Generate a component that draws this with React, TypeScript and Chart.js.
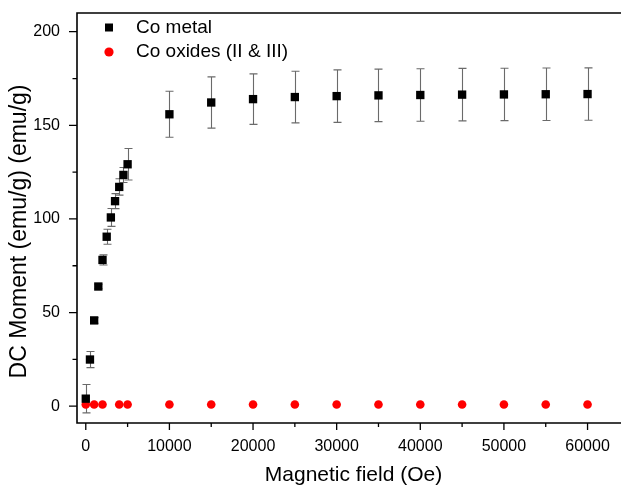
import React, { useEffect, useRef } from "react";
import { Chart, registerables } from "chart.js";

Chart.register(...registerables);

// ---- data ----
const metalField = [0, 500, 1000, 1500, 2000, 2500, 3000, 3500, 4000, 4500, 5000, 10000, 15000, 20000, 25000, 30000, 35000, 40000, 45000, 50000, 55000, 60000];
const metalMoment = [4.0, 24.9, 45.8, 63.9, 78.1, 90.5, 100.8, 109.5, 117.1, 123.5, 129.2, 155.9, 162.2, 164.0, 165.1, 165.6, 166.0, 166.2, 166.4, 166.5, 166.6, 166.7];
const metalError = [7.6, 4.3, 1.5, 1.2, 2.7, 4.0, 4.8, 4.0, 4.4, 4.0, 8.4, 12.3, 13.7, 13.5, 13.8, 14.0, 14.0, 14.0, 14.0, 14.0, 14.0, 14.0];
const oxideField = [0, 1000, 2000, 4000, 5000, 10000, 15000, 20000, 25000, 30000, 35000, 40000, 45000, 50000, 55000, 60000];
const oxideMoment = [0.9, 0.9, 0.9, 0.9, 0.9, 0.9, 0.9, 0.9, 0.9, 0.9, 0.9, 0.9, 0.9, 0.9, 0.9, 0.9];
const seriesLabels = ["Co metal", "Co oxides (II & III)"];
const xTickValues = [0, 10000, 20000, 30000, 40000, 50000, 60000];
const xMinorTickValues = [5000, 15000, 25000, 35000, 45000, 55000];
const yTickValues = [0, 50, 100, 150, 200];
const yMinorTickValues = [25, 75, 125, 175];
const xTitle = "Magnetic field (Oe)";
const yTitle = "DC Moment (emu/g) (emu/g)";

const FONT = "'Liberation Sans', Arial, sans-serif";

const framePlugin = {
  id: "frameAndExtras",
  beforeDatasetsDraw(chart: any) {
    const { ctx, scales } = chart;
    const xs = scales.x;
    const ys = scales.y;
    ctx.save();
    ctx.strokeStyle = "#6a6a6a";
    ctx.lineWidth = 1.1;
    metalField.forEach((f, i) => {
      const x = Math.round(xs.getPixelForValue(f)) + 0.5;
      const yt = ys.getPixelForValue(metalMoment[i] + metalError[i]);
      const yb = ys.getPixelForValue(metalMoment[i] - metalError[i]);
      ctx.beginPath();
      ctx.moveTo(x, yt);
      ctx.lineTo(x, yb);
      ctx.moveTo(x - 4, yt);
      ctx.lineTo(x + 4, yt);
      ctx.moveTo(x - 4, yb);
      ctx.lineTo(x + 4, yb);
      ctx.stroke();
    });
    ctx.restore();
  },
  afterDraw(chart: any) {
    const { ctx, chartArea, scales } = chart;
    const xs = scales.x;
    const ys = scales.y;
    const { left, right, top, bottom } = chartArea;
    ctx.save();
    ctx.strokeStyle = "#000";
    ctx.lineWidth = 1.6;
    ctx.beginPath();
    ctx.moveTo(right + 2, top);
    ctx.lineTo(left, top);
    ctx.lineTo(left, bottom);
    ctx.lineTo(right + 2, bottom);
    ctx.stroke();
    ctx.lineWidth = 1.3;
    ctx.beginPath();
    yTickValues.forEach((v) => {
      const y = ys.getPixelForValue(v);
      ctx.moveTo(left, y);
      ctx.lineTo(left - 8, y);
    });
    yMinorTickValues.forEach((v) => {
      const y = ys.getPixelForValue(v);
      ctx.moveTo(left, y);
      ctx.lineTo(left - 4.5, y);
    });
    xTickValues.forEach((v) => {
      const x = xs.getPixelForValue(v);
      ctx.moveTo(x, bottom);
      ctx.lineTo(x, bottom + 7);
    });
    xMinorTickValues.forEach((v) => {
      const x = xs.getPixelForValue(v);
      ctx.moveTo(x, bottom);
      ctx.lineTo(x, bottom + 4);
    });
    ctx.stroke();

    ctx.fillStyle = "#000";
    ctx.textAlign = "center";
    ctx.textBaseline = "middle";
    ctx.font = `21px ${FONT}`;
    ctx.fillText(xTitle, 353.5, 475.5);
    ctx.save();
    ctx.translate(19.5, 231.5);
    ctx.rotate(-Math.PI / 2);
    ctx.font = `23px ${FONT}`;
    ctx.fillText(yTitle, 0, 0);
    ctx.restore();

    const ds = chart.data.datasets;
    const lx = left + 32;
    const rows = [top + 14.5, top + 39];
    ctx.font = `19px ${FONT}`;
    ctx.textAlign = "left";
    ds.forEach((d: any, i: number) => {
      const cy = rows[i];
      ctx.fillStyle = d.backgroundColor;
      if (d.pointStyle === "rect") {
        ctx.fillRect(lx - 4, cy - 4, 8, 8);
      } else {
        ctx.beginPath();
        ctx.arc(lx, cy, 4.6, 0, Math.PI * 2);
        ctx.fill();
      }
      ctx.fillStyle = "#000";
      ctx.fillText(d.label, left + 59, cy);
    });
    ctx.restore();
  },
};

export default function App() {
  const ref = useRef<HTMLCanvasElement | null>(null);
  useEffect(() => {
    if (!ref.current) return;
    const chart = new Chart(ref.current, {
      type: "scatter",
      data: {
        datasets: [
          {
            label: seriesLabels[0],
            data: metalField.map((f, i) => ({ x: f, y: metalMoment[i] })),
            pointStyle: "rect",
            pointRadius: 5.9,
            pointHoverRadius: 5.9,
            backgroundColor: "#000000",
            borderColor: "#000000",
            borderWidth: 0,
            showLine: false,
          },
          {
            label: seriesLabels[1],
            data: oxideField.map((f, i) => ({ x: f, y: oxideMoment[i] })),
            pointStyle: "circle",
            pointRadius: 4.3,
            pointHoverRadius: 4.3,
            backgroundColor: "#ff0000",
            borderColor: "#ff0000",
            borderWidth: 0,
            showLine: false,
          },
        ],
      },
      options: {
        animation: false,
        responsive: true,
        maintainAspectRatio: false,
        layout: { autoPadding: false, padding: { top: 13, left: 0, right: 0, bottom: 0 } },
        plugins: { legend: { display: false }, tooltip: { enabled: false } },
        scales: {
          x: {
            type: "linear",
            min: -1050,
            max: 64000,
            afterBuildTicks: (s: any) => {
              s.ticks = xTickValues.map((v) => ({ value: v }));
            },
            afterFit: (s: any) => {
              s.height = 64;
              s.paddingLeft = 0;
              s.paddingRight = 0;
            },
            grid: { display: false, drawTicks: true, tickLength: 8 },
            border: { display: false },
            ticks: {
              autoSkip: false,
              maxRotation: 0,
              padding: 6,
              color: "#000",
              font: { family: FONT, size: 16 },
              callback: (v: any) => String(v),
            },
          },
          y: {
            type: "linear",
            min: -9,
            max: 210,
            afterBuildTicks: (s: any) => {
              s.ticks = yTickValues.map((v) => ({ value: v }));
            },
            afterFit: (s: any) => {
              s.width = 77;
              s.paddingTop = 0;
              s.paddingBottom = 0;
            },
            grid: { display: false, drawTicks: true, tickLength: 8 },
            border: { display: false },
            ticks: {
              autoSkip: false,
              padding: 9,
              color: "#000",
              font: { family: FONT, size: 16 },
              callback: (v: any) => String(v),
            },
          },
        },
      },
      plugins: [framePlugin],
    });
    return () => chart.destroy();
  }, []);
  return (
    <div style={{ position: "fixed", left: 0, top: 0, width: 621, height: 487, background: "#fff" }}>
      <canvas ref={ref} />
    </div>
  );
}
